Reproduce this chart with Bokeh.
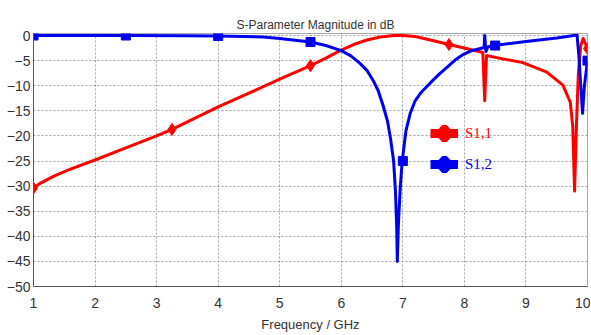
from bokeh.plotting import figure
from bokeh.models import Range1d, Legend, LegendItem, FixedTicker
from bokeh.embed import file_html
from bokeh.resources import INLINE

# ---- data ----
s11_freq = [1.0, 1.1, 1.33, 1.6, 2.0, 2.5, 3.0, 3.25, 3.5, 4.0, 4.5, 5.0, 5.5,
            5.75, 5.98, 6.2, 6.42, 6.63, 6.85, 7.0, 7.2, 7.45, 7.75, 8.1, 8.3, 8.33, 8.36,
            8.6, 8.95, 9.34, 9.6, 9.72, 9.76, 9.79, 9.82, 9.85, 9.89, 9.93, 10.0]
s11_db = [-30.4, -29.5, -28.0, -26.6, -24.8, -22.4, -20.0, -18.7, -17.2, -14.2, -11.5,
          -8.7, -6.0, -4.5, -3.0, -1.8, -0.9, -0.3, 0.0, 0.0, -0.2, -0.9,
          -1.8, -2.8, -3.4, -13.0, -4.0, -4.6, -5.4, -7.3, -9.9, -13.3,
          -18.0, -31.0, -18.0, -8.0, -2.0, -0.6, -2.6]
s11_marker_freq = [1.0, 3.25, 5.5, 7.75, 10.0]
s11_marker_db = [-30.4, -18.7, -6.0, -1.8, -2.6]

s12_freq = [1.0, 2.5, 3.5, 4.0, 4.73, 5.0, 5.5, 5.75, 6.0, 6.15, 6.3, 6.42, 6.52, 6.6,
            6.68, 6.75, 6.8, 6.85, 6.88, 6.9, 6.91, 6.93, 6.96, 6.99, 7.05, 7.12, 7.2,
            7.3, 7.45, 7.6, 7.72, 7.85, 7.98, 8.1, 8.26, 8.32, 8.33, 8.35, 8.38, 8.47,
            9.0, 9.5, 9.83, 9.86, 9.9, 9.92, 9.95, 10.0]
s12_db = [0.0, 0.0, -0.05, -0.1, -0.3, -0.6, -1.3, -2.0, -3.0, -4.0, -5.5, -7.0, -9.0,
          -11.0, -14.0, -17.0, -20.5, -25.0, -31.0, -38.0, -45.0, -37.0, -30.0, -25.0,
          -19.0, -15.5, -13.0, -11.3, -9.4, -7.6, -6.3, -4.9, -3.8, -3.1, -2.6, -2.4,
          0.0, -3.2, -2.3, -2.0, -1.2, -0.5, 0.1, -4.0, -12.0, -15.5, -10.0, -5.0]
s12_marker_freq = [1.0, 2.5, 4.0, 5.5, 7.0, 8.5, 10.0]
s12_marker_db = [0.0, 0.0, -0.1, -1.3, -25.0, -2.0, -5.0]

x_ticks = [1, 2, 3, 4, 5, 6, 7, 8, 9, 10]
y_ticks = [-50, -45, -40, -35, -30, -25, -20, -15, -10, -5, 0]

RED = "#ff0000"
BLUE = "#0000f0"
FONT = "Liberation Sans"
NAN = float("nan")

p = figure(width=590, height=334,
           x_range=Range1d(1, 10), y_range=Range1d(-50, 0.4),
           output_backend="svg", toolbar_location=None,
           min_border_left=33, min_border_right=3, min_border_top=33, min_border_bottom=47,
           title="S-Parameter Magnitude in dB")

p.background_fill_color = "white"
p.border_fill_color = "white"
p.outline_line_color = "#a8a8a8"

p.title.align = "center"
p.title.text_font = FONT
p.title.text_font_size = "12px"
p.title.text_font_style = "normal"
p.title.text_color = "#333333"
p.title.standoff = 4
p.title.padding = (10, 0, 0, 0)

for ax in (p.xaxis[0], p.yaxis[0]):
    ax.major_label_text_font = FONT
    ax.major_label_text_font_size = "14px"
    ax.major_label_text_color = "#333333"
    ax.major_tick_out = 0
    ax.major_tick_in = 0
    ax.minor_tick_out = 0
    ax.minor_tick_in = 0
    ax.axis_line_color = "#555555"

p.xaxis.ticker = FixedTicker(ticks=x_ticks)
p.yaxis.ticker = FixedTicker(ticks=y_ticks)
p.xaxis.major_label_standoff = 11
p.yaxis.major_label_standoff = 3
p.xaxis.axis_label = "Frequency / GHz"
p.xaxis.axis_label_text_font = FONT
p.xaxis.axis_label_text_font_size = "13px"
p.xaxis.axis_label_text_font_style = "normal"
p.xaxis.axis_label_text_color = "#333333"
p.xaxis.axis_label_standoff = 6

for g in (p.xgrid[0], p.ygrid[0]):
    g.grid_line_color = "#a0a0a0"
    g.grid_line_dash = "2 2"
    g.grid_line_width = 1
p.xgrid.ticker = FixedTicker(ticks=x_ticks)
p.ygrid.ticker = FixedTicker(ticks=y_ticks)

# curves
p.line(s11_freq, s11_db, line_color=RED, line_width=3, line_join="round")
p.scatter(s11_marker_freq, s11_marker_db, marker="diamond", size=12, color=RED)
p.line(s12_freq, s12_db, line_color=BLUE, line_width=3, line_join="round")
p.scatter(s12_marker_freq, s12_marker_db, marker="square", size=9, color=BLUE)

# legend glyphs (NaN data: drawn only in the legend)
l1 = p.line([NAN], [NAN], line_color=RED, line_width=9)
m1 = p.scatter([NAN], [NAN], marker="plus", size=20, color=RED, line_width=6)
l2 = p.line([NAN], [NAN], line_color=BLUE, line_width=9)
m2 = p.scatter([NAN], [NAN], marker="plus", size=20, color=BLUE, line_width=6)


def make_legend(label, rends, color, loc):
    return Legend(items=[LegendItem(label=label, renderers=rends)], location=loc,
                  padding=0, margin=0, spacing=0, glyph_width=28, glyph_height=28,
                  label_height=28, label_standoff=7,
                  label_text_font="Liberation Serif", label_text_font_size="15px",
                  label_text_color=color, border_line_alpha=0, background_fill_alpha=0)


p.add_layout(make_legend("S1,1", [l1, m1], RED, (397, 139)))
p.add_layout(make_legend("S1,2", [l2, m2], BLUE, (397, 108)))

open("out.html", "w").write(file_html(p, INLINE))
